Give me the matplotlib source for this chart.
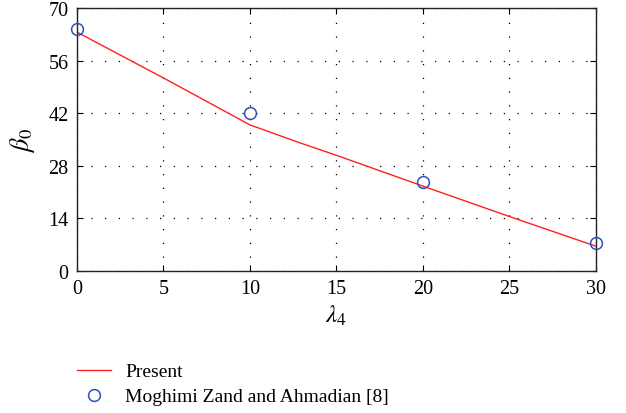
import matplotlib
matplotlib.use('Agg')
import matplotlib.pyplot as plt

# data
present_x = [0, 5, 10, 12.9, 15, 20, 25, 30]
present_y = [63.6, 51.4, 38.9, 34.1, 30.8, 22.6, 14.5, 6.6]
ref_x = [0, 10, 20, 30]
ref_y = [64.4, 42.1, 23.6, 7.5]
xticks = [0, 5, 10, 15, 20, 25, 30]
yticks = [0, 14, 28, 42, 56, 70]

plt.rcParams['font.family'] = ['Liberation Serif', 'DejaVu Serif']
plt.rcParams['mathtext.fontset'] = 'stix'

fig = plt.figure(figsize=(6.26, 4.14), dpi=100)
ax = fig.add_axes([0.123, 0.343, 0.829, 0.635])

ax.plot(present_x, present_y, color='#ff2020', lw=1.0, label='Present')
ax.plot(ref_x, ref_y, 'o', mfc='none', mec='#3050b8', mew=1.1, ms=8.5,
        label='Moghimi Zand and Ahmadian [8]', clip_on=False, zorder=5)

ax.set_xlim(0, 30)
ax.set_ylim(0, 70)
ax.set_xticks(xticks)
ax.set_yticks(yticks)
ax.tick_params(direction='in', top=True, right=True, labelsize=14.5,
               length=4, width=0.8)
ax.tick_params(axis='x', pad=6)
ax.tick_params(axis='y', pad=6)
ax.grid(True, color='black', linestyle=(0, (1, 10)), lw=0.9)
for s in ax.spines.values():
    s.set_linewidth(1.0)
    s.set_color('#222222')

ax.set_xlabel(r'$\lambda_4$', fontsize=18, labelpad=3)
ax.set_ylabel(r'$\beta_0$', fontsize=19, labelpad=8)

fig.legend(loc='upper left', bbox_to_anchor=(0.11, 0.14), frameon=False,
           fontsize=14, handlelength=1.75, handletextpad=0.75,
           labelspacing=0.38, borderaxespad=0)

fig.savefig('out.png', dpi=100)
